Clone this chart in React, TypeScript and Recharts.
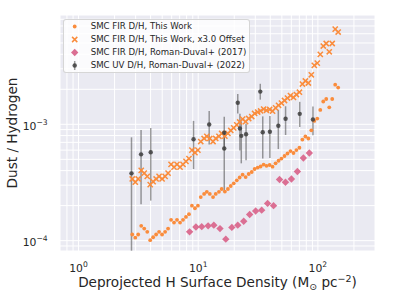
import { ScatterChart, Scatter, XAxis, YAxis, CartesianGrid, ErrorBar, Legend, Label } from 'recharts';

// SMC FIR D/H, this work (dots); the crosses are the same bins shifted by the x3.0 offset
const FIR_SIGMA = [
  2.81, 2.98, 3.15, 3.34, 3.54, 3.75, 3.97, 4.2, 4.45, 4.71,
  4.99, 5.29, 5.6, 5.93, 6.28, 6.65, 7.05, 7.46, 7.9, 8.37,
  8.86, 9.39, 9.94, 10.5, 11.2, 11.8, 12.5, 13.3, 14.0, 14.9,
  15.7, 16.7, 17.7, 18.7, 19.8, 21.0, 22.2, 23.5, 24.9, 26.4,
  28.0, 29.6, 31.4, 33.2, 35.2, 37.2, 39.5, 41.8, 44.3, 46.9,
  49.6, 52.6, 55.7, 59.0, 62.5, 66.1, 70.1, 74.2, 78.6, 83.2,
  88.1, 93.3, 98.8, 104.7, 110.9, 117.4, 124.4, 131.7, 139.5, 147.7,
];
const FIR_DH = [
  1.13e-4, 1.06e-4, 1.13e-4, 1.34e-4, 1.27e-4, 1.19e-4, 1.01e-4, 1.07e-4, 1.13e-4, 1.19e-4,
  1.13e-4, 1.19e-4, 1.27e-4, 1.51e-4, 1.43e-4, 1.51e-4, 1.43e-4, 1.51e-4, 1.6e-4, 1.69e-4,
  2.0e-4, 1.9e-4, 2.0e-4, 2.37e-4, 2.52e-4, 2.63e-4, 2.52e-4, 2.37e-4, 2.52e-4, 2.63e-4,
  2.78e-4, 2.64e-4, 2.78e-4, 2.95e-4, 3.11e-4, 3.3e-4, 3.49e-4, 3.69e-4, 3.52e-4, 3.74e-4,
  3.89e-4, 4.13e-4, 4.25e-4, 4.34e-4, 4.51e-4, 4.4e-4, 4.47e-4, 4.32e-4, 4.62e-4, 4.86e-4,
  5.08e-4, 5.34e-4, 5.61e-4, 5.89e-4, 5.67e-4, 6.01e-4, 6.29e-4, 7.4e-4, 7.86e-4, 7.55e-4,
  8.88e-4, 1.07e-3, 1.12e-3, 1.33e-3, 1.57e-3, 1.65e-3, 1.4e-3, 1.65e-3, 2.19e-3, 2.07e-3,
];
const OFFSET = 3.0;

// Roman-Duval+ (2017) FIR
const RD17_SIGMA = [8.47, 9.57, 10.7, 12.1, 13.5, 15.2, 17.0, 19.1, 21.4, 24.0, 26.9, 30.2, 33.9, 38.0, 42.6, 47.8, 53.6, 60.1, 67.4, 75.6, 84.8];
const RD17_DH = [1.19e-4, 1.31e-4, 1.32e-4, 1.34e-4, 1.36e-4, 1.27e-4, 1.03e-4, 1.3e-4, 1.36e-4, 1.47e-4, 1.68e-4, 1.8e-4, 1.83e-4, 2.09e-4, 2.0e-4, 3.35e-4, 3.18e-4, 3.39e-4, 3.93e-4, 5.13e-4, 5.67e-4];

// Roman-Duval+ (2022) UV, with lower / upper ends of the error bars
const UV_SIGMA = [2.77, 3.33, 4.01, 9.14, 12.35, 16.5, 16.5, 21.4, 22.3, 22.9, 25.1, 33.0, 34.6, 39.7, 46.7, 53.7, 70.5, 90.9];
const UV_DH = [3.79e-4, 5.52e-4, 5.75e-4, 7.43e-4, 9.96e-4, 8.47e-4, 6.19e-4, 1.53e-3, 9.2e-4, 7.96e-4, 8.22e-4, 1.91e-3, 8.54e-4, 8.64e-4, 9.73e-4, 1.115e-3, 1.23e-3, 1.1e-3];
const UV_LO = [8.2e-5, 2.06e-4, 2.21e-4, 4.13e-4, 6.7e-4, 6.01e-4, 2.63e-4, 1.24e-3, 5.95e-4, 4.62e-4, 4.9e-4, 1.63e-3, 5.08e-4, 5.13e-4, 6.13e-4, 8.09e-4, 9.48e-4, 8.04e-4];
const UV_HI = [7.73e-4, 8.93e-4, 9.29e-4, 1.07e-3, 1.3e-3, 1.16e-3, 8.42e-4, 1.82e-3, 1.23e-3, 1.06e-3, 1.01e-3, 2.23e-3, 1.17e-3, 1.18e-3, 1.33e-3, 1.43e-3, 1.56e-3, 1.42e-3];

const X_TICKS = [0.8, 0.9, 1, 2, 3, 4, 5, 6, 7, 8, 9, 10, 20, 30, 40, 50, 60, 70, 80, 90, 100, 200];
const X_MAJOR = [1, 10, 100];
const Y_TICKS = [
  9e-5, 1e-4, 2e-4, 3e-4, 4e-4, 5e-4, 6e-4, 7e-4, 8e-4, 9e-4,
  1e-3, 2e-3, 3e-3, 4e-3, 5e-3, 6e-3, 7e-3, 8e-3,
];
const Y_MAJOR = [1e-4, 1e-3];

const ORANGE = '#FA8C3C';
const PINK = '#DB6F93';
const DARK = '#3d3d3d';
const TEXT = '#262626';
const FONT = 'DejaVu Sans';

const firData = FIR_SIGMA.map((x, i) => ({ x, y: FIR_DH[i] }));
const firOffsetData = FIR_SIGMA.map((x, i) => ({ x, y: FIR_DH[i] * OFFSET }));
const rd17Data = RD17_SIGMA.map((x, i) => ({ x, y: RD17_DH[i] }));
const uvData = UV_SIGMA.map((x, i) => ({
  x,
  y: UV_DH[i],
  err: [UV_DH[i] - UV_LO[i], UV_HI[i] - UV_DH[i]],
}));

const expLabel = (v: number) => {
  const e = Math.round(Math.log10(v));
  return e < 0 ? '\u2212' + Math.abs(e) : String(e);
};

const XTick = (props: any) => {
  const { x, y, payload } = props;
  if (!X_MAJOR.includes(payload.value)) return <g />;
  return (
    <text x={x} y={y + 20.5} textAnchor="middle" fontSize={10.8} fill={TEXT} fontFamily={FONT}>
      10<tspan dy={-5} fontSize={7.6}>{expLabel(payload.value)}</tspan>
    </text>
  );
};

const YTick = (props: any) => {
  const { x, y, payload } = props;
  if (!Y_MAJOR.includes(payload.value)) return <g />;
  return (
    <text x={x - 12.3} y={y + 5.7} textAnchor="end" fontSize={10.8} fill={TEXT} fontFamily={FONT}>
      10<tspan dy={-5} fontSize={7.6}>{expLabel(payload.value)}</tspan>
    </text>
  );
};

const DotShape = (p: any) => <circle cx={p.cx} cy={p.cy} r={1.9} fill={ORANGE} />;

const CrossShape = (p: any) => {
  const s = 2.6;
  return (
    <path
      d={`M${p.cx - s},${p.cy - s}L${p.cx + s},${p.cy + s}M${p.cx - s},${p.cy + s}L${p.cx + s},${p.cy - s}`}
      stroke={ORANGE}
      strokeWidth={1.5}
      fill="none"
    />
  );
};

const DiamondShape = (p: any) => {
  const s = 3.7;
  return (
    <polygon
      points={`${p.cx},${p.cy - s} ${p.cx + s},${p.cy} ${p.cx},${p.cy + s} ${p.cx - s},${p.cy}`}
      fill={PINK}
    />
  );
};

const UvShape = (p: any) => <circle cx={p.cx} cy={p.cy} r={2.2} fill={DARK} fillOpacity={0.85} />;

const LEGEND_ITEMS = [
  { label: 'SMC FIR D/H, This Work', kind: 'dot' },
  { label: 'SMC FIR D/H, This Work, x3.0 Offset', kind: 'cross' },
  { label: 'SMC FIR D/H, Roman-Duval+ (2017)', kind: 'diamond' },
  { label: 'SMC UV D/H, Roman-Duval+ (2022)', kind: 'uv' },
];

function LegendMarker({ kind }: { kind: string }) {
  const cx = 10.7;
  const cy = 6.5;
  return (
    <svg width={26.7} height={13} style={{ flex: 'none' }}>
      {kind === 'dot' && <DotShape cx={cx} cy={cy} />}
      {kind === 'cross' && <CrossShape cx={cx} cy={cy} />}
      {kind === 'diamond' && <DiamondShape cx={cx} cy={cy} />}
      {kind === 'uv' && (
        <g>
          <line x1={cx} x2={cx} y1={cy - 4.5} y2={cy + 4.5} stroke="#4a4a4a" strokeOpacity={0.55} strokeWidth={1.5} />
          <UvShape cx={cx} cy={cy} />
        </g>
      )}
    </svg>
  );
}

function LegendBox() {
  return (
    <div
      style={{
        width: 187,
        height: 54,
        boxSizing: 'border-box',
        background: 'rgba(255,255,255,0.8)',
        border: '1px solid rgba(204,204,204,0.8)',
        borderRadius: 3,
        fontFamily: FONT,
        fontSize: 8.6,
        color: TEXT,
      }}
    >
      {LEGEND_ITEMS.map((it) => (
        <div key={it.label} style={{ display: 'flex', alignItems: 'center', height: 13 }}>
          <LegendMarker kind={it.kind} />
          <span style={{ whiteSpace: 'nowrap', lineHeight: '13px' }}>{it.label}</span>
        </div>
      ))}
    </div>
  );
}

export default function App() {
  return (
    <div style={{ position: 'absolute', left: 0, top: 0, width: 395, height: 296, background: '#fff' }}>
      <ScatterChart width={395} height={296} margin={{ top: 15, right: 20, bottom: 0, left: 0 }}>
        <CartesianGrid fill="#EAEAF2" stroke="#fff" strokeWidth={1} />
        <XAxis
          type="number"
          dataKey="x"
          scale="log"
          domain={[0.7, 300]}
          allowDataOverflow
          ticks={X_TICKS}
          interval={0}
          tick={(p: any) => <XTick {...p} />}
          tickLine={false}
          axisLine={false}
          tickSize={0}
          tickMargin={0}
          height={45}
        >
          <Label
            content={(p: any) => {
              const vb = p.viewBox;
              return (
                <text x={vb.x + vb.width / 2} y={vb.y + 36} textAnchor="middle" fontSize={13.6} fill={TEXT} fontFamily={FONT}>
                  Deprojected H Surface Density (M
                  <tspan dy={2.5} fontSize={9.5}>{'\u2299'}</tspan>
                  <tspan dy={-2.5}> pc</tspan>
                  <tspan dy={-5.5} fontSize={9.5}>{'\u22122'}</tspan>
                  <tspan dy={5.5}>)</tspan>
                </text>
              );
            }}
          />
        </XAxis>
        <YAxis
          type="number"
          dataKey="y"
          scale="log"
          domain={[8.15e-5, 8.7e-3]}
          allowDataOverflow
          ticks={Y_TICKS}
          interval={0}
          tick={(p: any) => <YTick {...p} />}
          tickLine={false}
          axisLine={false}
          tickSize={0}
          tickMargin={0}
          width={60}
        >
          <Label
            content={(p: any) => {
              const vb = p.viewBox;
              const lx = vb.x + 16.7;
              const ly = vb.y + vb.height / 2;
              return (
                <text x={lx} y={ly} textAnchor="middle" fontSize={13.6} fill={TEXT} fontFamily={FONT} transform={`rotate(-90, ${lx}, ${ly})`}>
                  Dust / Hydrogen
                </text>
              );
            }}
          />
        </YAxis>
        <Scatter data={firData} shape={DotShape} isAnimationActive={false} />
        <Scatter data={firOffsetData} shape={CrossShape} isAnimationActive={false} />
        <Scatter data={rd17Data} shape={DiamondShape} isAnimationActive={false} />
        <Scatter data={uvData} shape={UvShape} isAnimationActive={false}>
          <ErrorBar dataKey="err" direction="y" width={0} stroke="#4a4a4a" strokeOpacity={0.55} strokeWidth={1.5} />
        </Scatter>
        <Legend
          layout="vertical"
          align="center"
          verticalAlign="middle"
          wrapperStyle={{ left: 63, top: 18.7, width: 187 }}
          content={() => <LegendBox />}
        />
      </ScatterChart>
    </div>
  );
}
